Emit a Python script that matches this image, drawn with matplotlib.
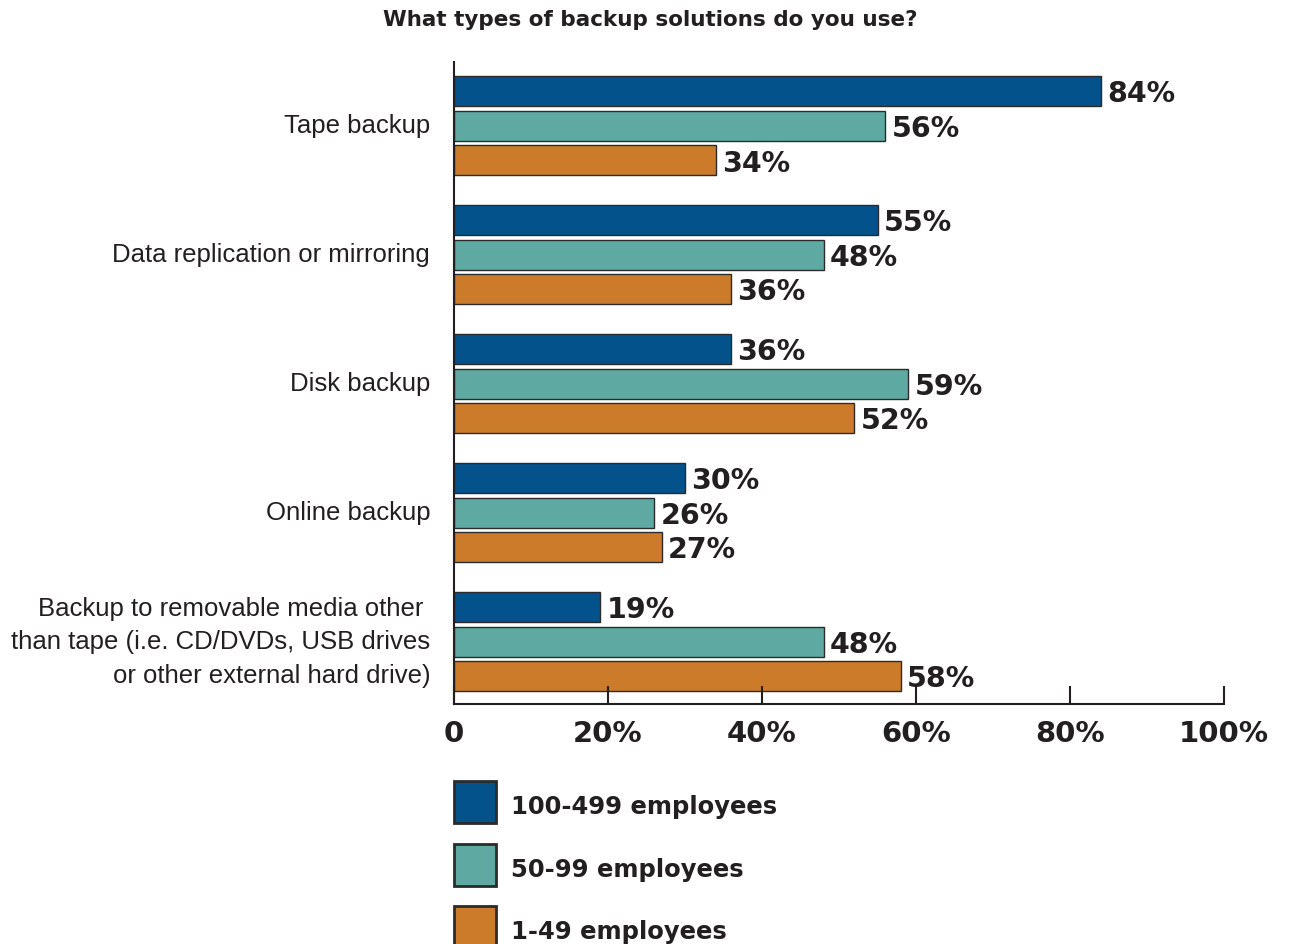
import matplotlib.pyplot as plt
import numpy as np
from matplotlib.patches import Rectangle

plt.rcParams['font.family'] = ['Liberation Sans', 'DejaVu Sans']
BOLD = ['DejaVu Sans']

categories = ['Tape backup', 'Data replication or mirroring', 'Disk backup', 'Online backup',
              'Backup to removable media other \nthan tape (i.e. CD/DVDs, USB drives\nor other external hard drive)']
series_names = ['100-499 employees', '50-99 employees', '1-49 employees']
large = [84, 55, 36, 30, 19]
medium = [56, 48, 59, 26, 48]
small = [34, 36, 52, 27, 58]
colors = ['#03528c', '#5fa9a3', '#cb7b2a']
xticks = [0, 20, 40, 60, 80, 100]
xtick_labels = ['0', '20%', '40%', '60%', '80%', '100%']

W, H = 1290, 945
fig = plt.figure(figsize=(W / 100, H / 100), dpi=100)
# axes box in pixel terms: x 454..1224, y 63..705
ax = fig.add_axes([454 / W, 1 - 705 / H, 770 / W, 642 / H])

# y in pixel-like units, inverted so the first group is on top
group_step = 129
bar_h = 30
offsets = [0, 34.5, 69]
first_center = 92
centers = first_center + group_step * np.arange(len(categories))

for vals, off, col in zip([large, medium, small], offsets, colors):
    ys = centers + off
    ax.barh(ys, vals, height=bar_h, color=col, edgecolor='#2b2b2b', linewidth=1.0)
    for y, v in zip(ys, vals):
        ax.text(v + 0.8, y + 2.5, f'{v}%', va='center', ha='left', family=BOLD,
                fontsize=20.5, fontweight='bold', color='#231f20')

ax.set_xlim(0, 100)
ax.set_ylim(705, 63)
ax.set_yticks([])
ax.set_xticks(xticks)
ax.set_xticklabels(xtick_labels, fontsize=21, fontweight='bold', color='#231f20',
                   family=BOLD)
ax.tick_params(axis='x', direction='in', length=13, width=1.5, color='#231f20', pad=11)
for side in ['top', 'right']:
    ax.spines[side].set_visible(False)
for side in ['left', 'bottom']:
    ax.spines[side].set_linewidth(1.5)
    ax.spines[side].set_color('#231f20')

# category labels on the left
for c, y in zip(categories, centers + offsets[1]):
    ax.text(-3.1, y, c, ha='right', va='center', fontsize=18.5, color='#231f20',
            linespacing=1.5)

fig.text(650 / W, 1 - 20 / H, 'What types of backup solutions do you use?', family=BOLD,
         ha='center', va='center', fontsize=15.5, fontweight='bold', color='#231f20')

# legend squares drawn in figure pixels
legend_tops = [782, 845, 907]
for name, col, top in zip(series_names, colors, legend_tops):
    fig.patches.append(Rectangle((454 / W, 1 - (top + 42) / H), 42 / W, 42 / H,
                                 transform=fig.transFigure, facecolor=col,
                                 edgecolor='#2b2b2b', linewidth=2))
    fig.text(511 / W, 1 - (top + 25) / H, name, ha='left', va='center', family=BOLD,
             fontsize=17.5, fontweight='bold', color='#231f20')

fig.savefig('out.png', dpi=100, facecolor='white')
